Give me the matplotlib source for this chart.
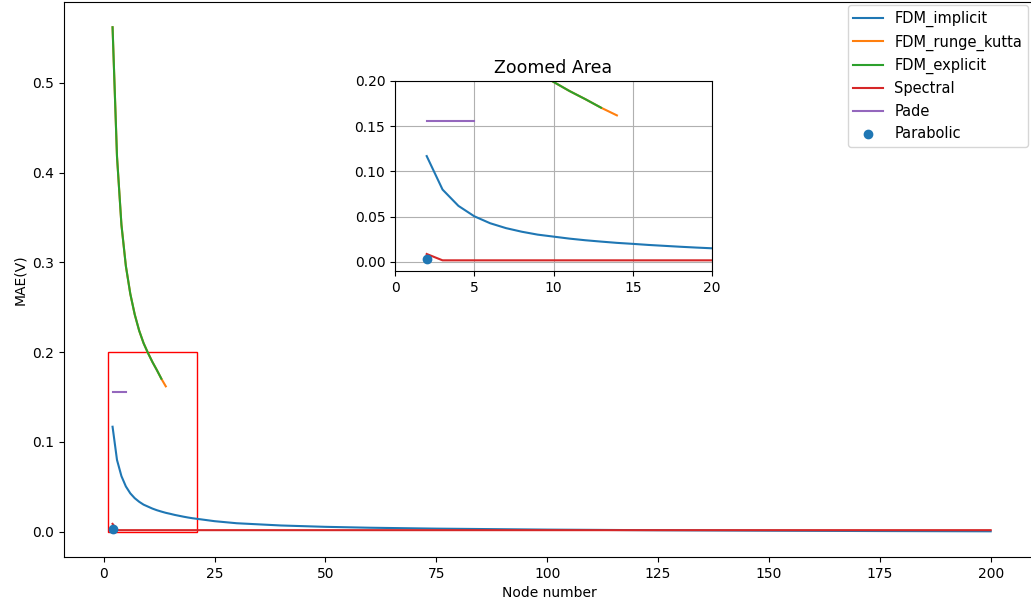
import matplotlib
matplotlib.use("Agg")
import matplotlib.pyplot as plt
from matplotlib.patches import Rectangle

# Data
impl_nodes = [2, 3, 4, 5, 6, 7, 8, 9, 10, 11, 12, 13, 14, 15, 16, 17, 18, 19, 20,
              25, 30, 40, 50, 60, 75, 100, 125, 150, 175, 200]
impl_mae = [0.117, 0.080, 0.062, 0.0505, 0.0428, 0.0374, 0.0334, 0.0302, 0.0280,
            0.0258, 0.0240, 0.0225, 0.0211, 0.0200, 0.0188, 0.0178, 0.0168, 0.0159,
            0.0151, 0.0118, 0.0095, 0.0070, 0.0055, 0.0045, 0.0035, 0.0024, 0.0017,
            0.0012, 0.0008, 0.0005]

rk_nodes = [2, 3, 4, 5, 6, 7, 8, 9, 10, 11, 12, 13, 14]
rk_mae = [0.562, 0.418, 0.342, 0.296, 0.265, 0.242, 0.224, 0.210, 0.199, 0.189,
          0.180, 0.1705, 0.162]

expl_nodes = [2, 3, 4, 5, 6, 7, 8, 9, 10, 11, 12, 13]
expl_mae = [0.562, 0.418, 0.342, 0.296, 0.265, 0.242, 0.224, 0.210, 0.199, 0.189,
            0.180, 0.1705]

spec_nodes = [2, 3, 50, 100, 150, 200]
spec_mae = [0.0088, 0.0018, 0.0018, 0.0018, 0.0018, 0.0018]

pade_nodes = [2, 3, 4, 5]
pade_mae = [0.156, 0.156, 0.156, 0.156]

parab_nodes = [2]
parab_mae = [0.0033]

zoom_x = (1, 21)
zoom_y = (0, 0.2)

fig = plt.figure(figsize=(10.31, 6.05), dpi=100)
ax = fig.add_axes([64/1031, 1-557/605, 970.8/1031, 555/605])

def draw(a):
    a.plot(impl_nodes, impl_mae, color='#1f77b4', label='FDM_implicit')
    a.plot(rk_nodes, rk_mae, color='#ff7f0e', label='FDM_runge_kutta')
    a.plot(expl_nodes, expl_mae, color='#2ca02c', label='FDM_explicit')
    a.plot(spec_nodes, spec_mae, color='#d62728', label='Spectral')
    a.plot(pade_nodes, pade_mae, color='#9467bd', label='Pade')
    a.scatter(parab_nodes, parab_mae, color='#1f77b4', label='Parabolic', zorder=3)

draw(ax)
ax.add_patch(Rectangle((zoom_x[0], zoom_y[0]), zoom_x[1]-zoom_x[0], zoom_y[1]-zoom_y[0],
                       fill=False, edgecolor='red', linewidth=1))
ax.set_xlabel('Node number')
ax.set_ylabel('MAE(V)')
ax.legend(loc='upper right', bbox_to_anchor=(1028/1031, 1-5/605),
          bbox_transform=fig.transFigure, borderaxespad=0, fontsize=10.5)

axin = fig.add_axes([395/1031, 1-271/605, 317/1031, 190/605])
draw(axin)
axin.set_xlim(0, 20)
axin.set_ylim(-0.01, 0.2)
axin.set_xticks([0, 5, 10, 15, 20])
axin.set_yticks([0.0, 0.05, 0.10, 0.15, 0.20])
axin.grid(True)
axin.set_title('Zoomed Area', fontsize=12.5)

fig.savefig('out.png', dpi=100)
